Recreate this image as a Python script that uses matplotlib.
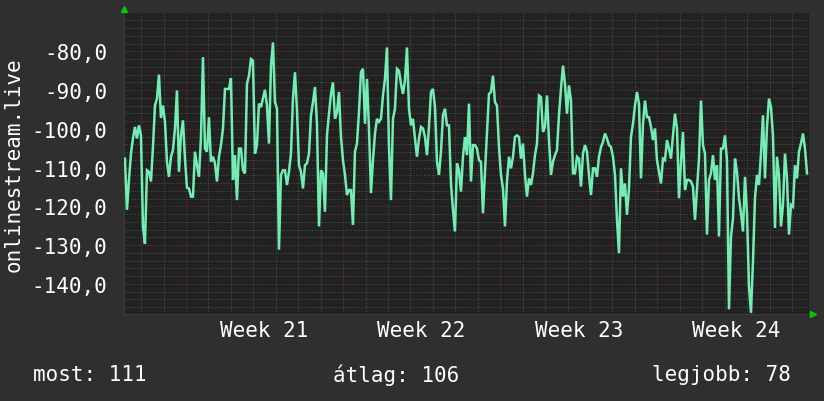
import numpy as np
import matplotlib
matplotlib.use("Agg")
import matplotlib.pyplot as plt
from matplotlib.lines import Line2D

# signal level, sampled roughly every 2 hours (dB)
signal = [
    -107.7, -120.9, -113.2, -106.4, -102.5, -99.5, -102.5, -99.1, -101.7, -125.2,
    -129.7, -110.7, -111.1, -113.6, -104.7, -94.0, -92.2, -86.0, -97.2, -94.0,
    -98.2, -108.5, -112.4, -107.2, -105.5, -99.9, -90.1, -111.1, -101.7, -97.8,
    -107.7, -115.2, -115.4, -117.5, -117.5, -105.9, -109.4, -112.4, -102.1, -81.5,
    -105.1, -105.9, -97.0, -108.5, -107.2, -108.9, -113.6, -107.2, -104.2, -99.9,
    -89.7, -89.7, -89.7, -86.9, -113.2, -106.8,
    -118.4, -105.1, -105.1, -110.7, -111.5, -88.4, -86.3, -82.0, -82.4, -106.4,
    -104.2, -93.5, -94.4, -92.2, -89.9, -94.0, -103.8, -83.7, -77.7, -93.1,
    -94.8, -131.2, -111.9, -110.7, -110.7, -114.5, -111.1, -106.4, -92.2, -85.4,
    -95.2, -109.4, -111.1, -115.4, -109.4, -108.9, -106.4, -96.5, -93.1, -89.2,
    -98.7, -125.2, -110.7, -111.5, -121.4, -101.7, -96.1, -91.0, -88.0, -97.4,
    -95.7, -90.5, -102.1, -108.1, -111.9, -117.1, -115.8,
    -115.8, -124.8, -105.9, -103.8, -95.7, -85.4, -84.5, -98.7, -87.1, -99.9,
    -116.6, -108.1, -101.2, -97.4, -98.2, -97.4, -91.4, -87.1, -79.0, -104.7,
    -118.4, -97.4, -94.8, -84.5, -85.0, -88.4, -91.0, -87.5, -79.0, -94.8,
    -99.1, -97.4, -102.5, -107.2, -102.5, -99.5, -99.9, -102.1, -106.8, -99.5,
    -90.5, -89.7, -94.4, -108.5, -111.9, -105.9, -96.5, -94.8, -99.1, -99.1,
    -114.1, -120.9, -126.5, -108.9, -110.7, -116.2, -107.2,
    -102.1, -106.8, -93.5, -113.6, -104.2, -104.2, -105.1, -108.1, -108.5, -121.8,
    -111.1, -101.2, -91.0, -90.5, -86.3, -93.1, -94.0, -104.7, -111.9, -115.4,
    -125.2, -113.6, -107.2, -110.2, -107.2, -102.1, -101.7, -102.1, -107.7, -103.8,
    -111.9, -117.5, -112.8, -114.5, -111.5, -106.8, -103.8, -91.4, -91.8, -100.8,
    -99.5, -91.4, -102.9, -111.9, -108.5, -106.8, -105.5, -96.5, -89.7, -83.7,
    -88.4, -96.1, -88.8, -92.7, -111.5, -111.5, -107.2, -107.7,
    -114.9, -106.4, -104.2, -105.9, -111.9, -117.1, -110.2, -110.2, -112.4, -107.2,
    -104.7, -103.4, -101.2, -102.5, -104.2, -104.7, -107.2, -111.9, -123.5, -132.1,
    -110.2, -117.5, -114.1, -122.2, -115.4, -102.1, -98.7, -94.0, -90.5, -93.5,
    -112.8, -98.7, -92.7, -97.0, -97.0, -99.5, -102.9, -99.9, -108.1, -111.1,
    -114.1, -107.7, -108.1, -102.9, -105.1, -107.7, -101.7, -96.1, -99.9, -117.9,
    -108.5, -100.8, -115.8, -113.2, -113.2, -113.6, -114.9, -123.5,
    -115.8, -107.7, -92.7, -104.2, -106.4, -127.3, -113.2, -111.5, -106.8, -113.2,
    -109.4, -127.8, -105.1, -105.1, -101.7, -108.1, -146.6, -127.8, -123.1, -107.7,
    -111.1, -117.9, -121.8, -126.5, -112.4, -121.8, -140.6, -147.5, -134.2, -117.9,
    -111.9, -114.5, -106.4, -96.5, -112.8, -99.5, -92.2, -94.4, -101.7, -125.6,
    -107.2, -111.9, -125.2, -119.6, -106.4, -112.8, -127.3, -119.6, -120.1, -109.4,
    -112.8, -105.9, -103.8, -101.2, -105.1, -111.5,
]
# first and last sample, in days from the start of week 21
first_day = -2.72
last_day = 27.67
weeks = ["Week 21", "Week 22", "Week 23", "Week 24"]
summary = {"most": 111, "átlag": 106, "legjobb": 78}

days = np.linspace(first_day, last_day, len(signal))

BG = "#2f2f2f"
CANVAS = "#212121"
FG = "#ffffff"
LINE = "#72eeb4"
MINOR = "#4c4c4c"
MAJOR = "#733030"
FONT = "DejaVu Sans Mono"

fig = plt.figure(figsize=(8.24, 4.02), dpi=100, facecolor=BG)
ax = fig.add_axes([124 / 824, 1 - 315 / 402, 685 / 824, 301 / 402])
ax.set_facecolor(CANVAS)

ax.set_xlim(-2.763, 27.76)
ax.set_ylim(-147.8, -70.1)

dots = (0, (1, 1.5))
for d in range(-2, 28):
    col = MAJOR if d % 7 == 0 else MINOR
    ax.axvline(d, color=col, lw=0.75, ls=dots, zorder=1)
for v in range(-146, -70, 2):
    col = MAJOR if v % 10 == 0 else MINOR
    ax.axhline(v, color=col, lw=0.75, ls=dots, zorder=1)

ax.plot(days, signal, color=LINE, lw=1.8, zorder=3, solid_joinstyle="miter")

yt = list(range(-140, -79, 10))
ax.set_yticks(yt)
ax.set_yticklabels([f"{v:.1f}".replace(".", ",") for v in yt])
ax.set_xticks([3.5 + 7 * i for i in range(len(weeks))])
ax.set_xticklabels(weeks)
ax.tick_params(axis="both", length=0, colors=FG, labelsize=15)
ax.tick_params(axis="y", pad=12)
ax.tick_params(axis="x", pad=4)
for lab in ax.get_xticklabels() + ax.get_yticklabels():
    lab.set_fontfamily(FONT)

for s in ax.spines.values():
    s.set_visible(False)
ax.spines["left"].set_visible(True)
ax.spines["bottom"].set_visible(True)
ax.spines["left"].set_color("#3a3a3a")
ax.spines["bottom"].set_color("#3a3a3a")

fig.text(14 / 824, 1 - 164.5 / 402, "onlinestream.live", rotation=90,
         ha="center", va="center", color=FG, fontsize=15, family=FONT)

# axis arrows
fig.add_artist(Line2D([124.5 / 824], [1 - 10 / 402], marker="^", ms=5,
                      color="#00cc00", ls="none"))
fig.add_artist(Line2D([813 / 824], [1 - 315 / 402], marker=">", ms=5,
                      color="#00cc00", ls="none"))

ly = 1 - 375 / 402
keys = list(summary)
fig.text(33 / 824, ly, f"{keys[0]}: {summary[keys[0]]}", ha="left", va="center",
         color=FG, fontsize=15, family=FONT)
fig.text(333 / 824, ly, f"{keys[1]}: {summary[keys[1]]}", ha="left", va="center",
         color=FG, fontsize=15, family=FONT)
fig.text(791 / 824, ly, f"{keys[2]}: {summary[keys[2]]}", ha="right", va="center",
         color=FG, fontsize=15, family=FONT)

fig.savefig("out.png", dpi=100, facecolor=BG)
